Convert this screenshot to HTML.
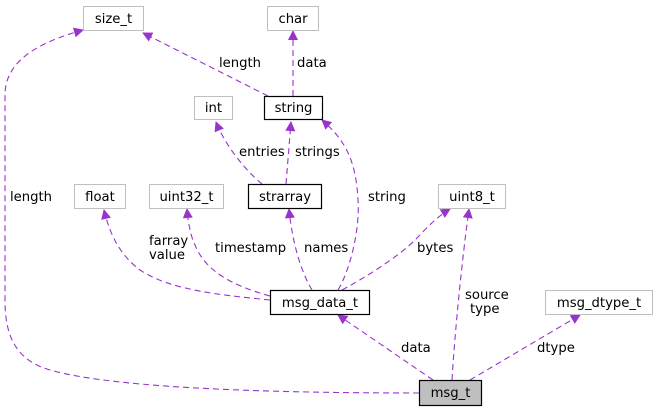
<!DOCTYPE html>
<html><head><meta charset="utf-8"><style>
html,body{margin:0;padding:0;background:#fff;}
svg{display:block;}
text{font-family:"DejaVu Sans","Liberation Sans",sans-serif;font-size:13.2px;fill:#000;}
.e{fill:none;stroke:#9a32cd;stroke-width:1.1;stroke-dasharray:6,4;}
.g{fill:#fff;stroke:#bfbfbf;stroke-width:1;}
.b{fill:#fff;stroke:#000;stroke-width:1.2;}
</style></head><body>
<svg width="657" height="412" viewBox="0 0 657 412" xmlns="http://www.w3.org/2000/svg">
<defs><marker id="a" viewBox="0 0 10 10" refX="9" refY="5" markerWidth="12" markerHeight="10" markerUnits="userSpaceOnUse" orient="auto"><path d="M0,0 L10,5 L0,10 z" fill="#9a32cd"/></marker></defs>
<path class="e" marker-end="url(#a)" d="M419,393 C300,393 120,390 50,370 C15,360 5,335 5,300 L5,95 C5,60 40,42 83,30"/>
<path class="e" marker-end="url(#a)" d="M268,96 L143,33"/>
<path class="e" marker-end="url(#a)" d="M293,96 L293,31"/>
<path class="e" marker-end="url(#a)" d="M262,184 C245,170 225,145 216,122"/>
<path class="e" marker-end="url(#a)" d="M286,184 L291,122"/>
<path class="e" marker-end="url(#a)" d="M338,290 C350,270 360,230 358,200 C356,160 345,140 322,120"/>
<path class="e" marker-end="url(#a)" d="M270,300 C220,295 170,290 140,270 C120,255 110,235 104,210"/>
<path class="e" marker-end="url(#a)" d="M270,296 C230,285 205,270 195,245 C190,235 188,220 187,209"/>
<path class="e" marker-end="url(#a)" d="M312,290 C300,270 292,240 289,209"/>
<path class="e" marker-end="url(#a)" d="M342,290 C370,275 400,255 415,240 C425,230 435,218 450,209"/>
<path class="e" marker-end="url(#a)" d="M433,380 L338,315"/>
<path class="e" marker-end="url(#a)" d="M452,380 C455,330 462,260 469,209"/>
<path class="e" marker-end="url(#a)" d="M470,380 L580,315"/>
<rect class="g" x="83.5" y="6.5" width="60" height="24"/><text x="113.5" y="23" text-anchor="middle">size_t</text>
<rect class="g" x="267.5" y="6.5" width="51" height="24"/><text x="293" y="23" text-anchor="middle">char</text>
<rect class="b" x="264.5" y="96.5" width="58" height="23"/><text x="293.5" y="112" text-anchor="middle">string</text>
<rect class="g" x="194.5" y="96.5" width="38" height="23"/><text x="213.5" y="112" text-anchor="middle">int</text>
<rect class="g" x="74.5" y="184.5" width="51" height="24"/><text x="100" y="201" text-anchor="middle">float</text>
<rect class="g" x="149.5" y="184.5" width="74" height="24"/><text x="186.5" y="201" text-anchor="middle">uint32_t</text>
<rect class="b" x="248.5" y="184.5" width="73" height="24"/><text x="285" y="201" text-anchor="middle">strarray</text>
<rect class="g" x="438.5" y="184.5" width="67" height="24"/><text x="472" y="201" text-anchor="middle">uint8_t</text>
<rect class="b" x="270.5" y="290.5" width="99" height="24"/><text x="320" y="307" text-anchor="middle">msg_data_t</text>
<rect class="g" x="545.5" y="290.5" width="107" height="24"/><text x="599" y="307" text-anchor="middle">msg_dtype_t</text>
<rect x="419.5" y="380.5" width="62" height="25" fill="#bfbfbf" stroke="#000" stroke-width="1.2"/><text x="450.5" y="397" text-anchor="middle">msg_t</text>
<text x="10" y="201">length</text>
<text x="219" y="67">length</text>
<text x="297" y="67">data</text>
<text x="239" y="156">entries</text>
<text x="295" y="156">strings</text>
<text x="368" y="201">string</text>
<text x="149" y="245">farray</text>
<text x="149" y="259">value</text>
<text x="215" y="252">timestamp</text>
<text x="304" y="252">names</text>
<text x="417" y="252">bytes</text>
<text x="465" y="299">source</text>
<text x="470" y="313">type</text>
<text x="401" y="352">data</text>
<text x="537" y="352">dtype</text>
</svg>
</body></html>
